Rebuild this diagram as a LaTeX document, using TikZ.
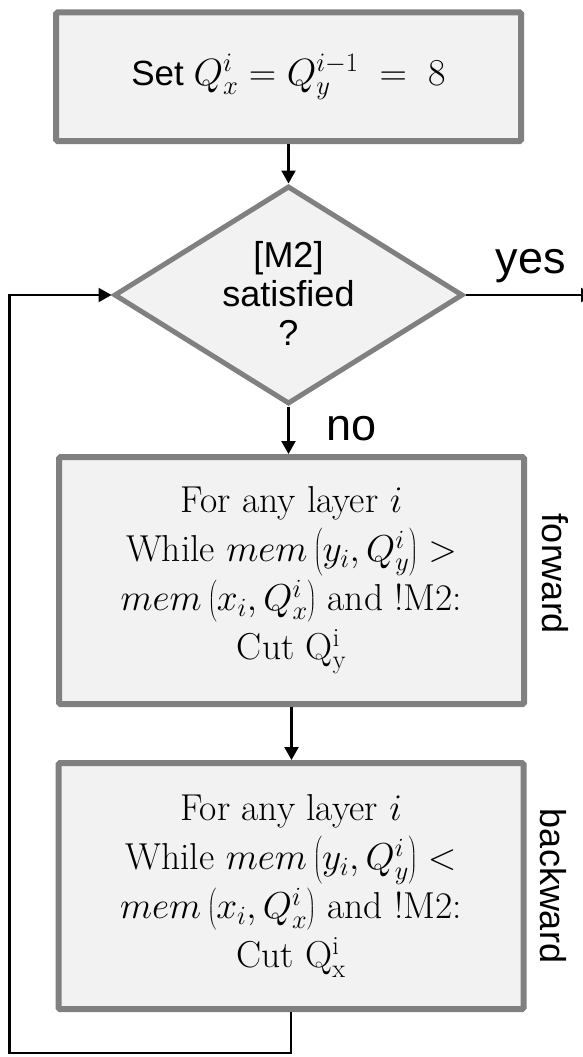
\documentclass[tikz,border=0pt]{standalone}
\usepackage{fix-cm}
\usepackage{fontspec}
\newfontfamily\arialfont{Liberation Sans}
\usetikzlibrary{arrows.meta,shapes.geometric}
\definecolor{boxgray}{HTML}{808080}
\definecolor{boxfill}{HTML}{F2F2F2}
\begin{document}
\begin{tikzpicture}[x=1pt,y=-1pt,
  procbox/.style={draw=boxgray, line width=6pt, fill=boxfill, rounded corners=1.5pt,
    minimum width=465pt, inner sep=0pt, align=center, text=black},
  decbox/.style={diamond, draw=boxgray, line width=5pt, fill=boxfill,
    minimum width=349pt, minimum height=218pt, inner sep=0pt},
  conn/.style={draw=black, line width=2.2pt, -{Triangle[length=13pt,width=14pt]}},
  sanslabel/.style={font=\arialfont\fontsize{36}{39}\selectfont, align=center, inner sep=0pt},
  bigword/.style={font=\arialfont\fontsize{45}{50}\selectfont, inner sep=0pt},
  serifblock/.style={font=\fontsize{37.5}{49}\selectfont}
]
\useasboundingbox (0,0) rectangle (583,1057);
\clip (0,0) rectangle (583,1057);

% boxes
\node[procbox, minimum height=128.5pt, font=\arialfont\fontsize{35}{40}\selectfont]
  (b1) at (288.5,76.75) {Set {\fontsize{38}{40}\selectfont$Q_x^i = Q_y^{i-1} \;=\; 8$}};
\node[decbox] (d) at (288.5,295) {};
\node[sanslabel] (dtext) at (288.5,293) {[M2]\\satisfied\\?};
\node[procbox, serifblock, minimum height=247pt] (b2) at (291.5,580.5)
  {For any layer $i$\\
   While $mem\left(y_i,Q_y^i\right) >$\\
   $mem\left(x_i,Q_x^i\right)$ and !M2:\\
   Cut $\mathrm{Q}_{\mathrm{y}}^{\mathrm{i}}$};
\node[procbox, serifblock, minimum height=246pt] (b3) at (291,886)
  {For any layer $i$\\
   While $mem\left(y_i,Q_y^i\right) <$\\
   $mem\left(x_i,Q_x^i\right)$ and !M2:\\
   Cut $\mathrm{Q}_{\mathrm{x}}^{\mathrm{i}}$};

% labels
\node[bigword, anchor=base] (yes) at (531,273) {yes};
\node[bigword, anchor=base] (no) at (352,440) {no};
\node[sanslabel, rotate=-90] (fw) at (555,574) {forward};
\node[sanslabel, rotate=-90] (bw) at (553,886) {backward};

% connectors
\coordinate (yesend) at (594,295);
\coordinate (lb) at (9.5,1053);
\draw[conn] (b1.south) -- (b1.south |- d.north);
\draw[conn] (d.south) -- (d.south |- b2.north);
\draw[conn] (b2.south) -- (b2.south |- b3.north);
\draw[conn] (d.east) -- (yesend);
\draw[conn] (b3.south) |- (lb) |- (d.west);
\end{tikzpicture}
\end{document}
